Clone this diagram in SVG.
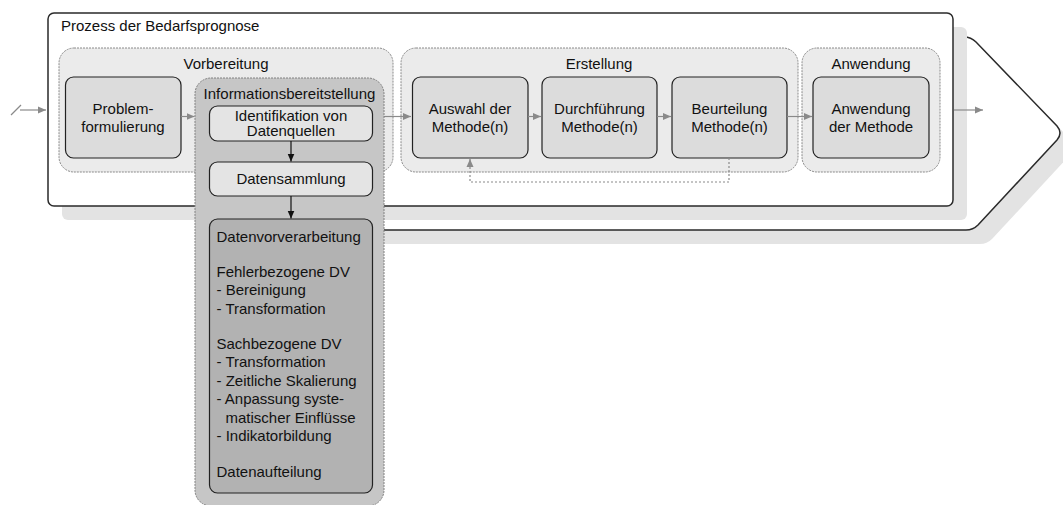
<svg xmlns="http://www.w3.org/2000/svg" width="1063" height="505" viewBox="0 0 1063 505">
  <defs>
    <style>
      text { font-family: "Liberation Sans", Arial, sans-serif; font-size: 15px; fill: #111; }
      .mid { text-anchor: middle; }
      .shadow { fill: #e3e3e3; stroke: none; }
      .frame { fill: #fff; stroke: #2a2a2a; stroke-width: 1.5; }
      .phase { fill: #ebebeb; stroke: #8a8a8a; stroke-width: 1; stroke-dasharray: 2 1; }
      .step { fill: #dcdcdc; stroke: #222; stroke-width: 1.2; }
      .info { fill: #c6c6c6; stroke: #808080; stroke-width: 1; stroke-dasharray: 2 1; }
      .sub { fill: #e4e4e4; stroke: #222; stroke-width: 1.2; }
      .prep { fill: #b2b2b2; stroke: #222; stroke-width: 1.2; }
      .flow { fill: none; stroke: #8a8a8a; stroke-width: 1.2; }
      .loop { fill: none; stroke: #8a8a8a; stroke-width: 1.2; stroke-dasharray: 2 2; }
      .dark { fill: none; stroke: #111; stroke-width: 1.2; }
    </style>
    <marker id="arrowGray" markerUnits="userSpaceOnUse" markerWidth="9" markerHeight="8" refX="8" refY="4" orient="auto">
      <path d="M0,0.5 L8,4 L0,7.5 Z" fill="#8a8a8a"/>
    </marker>
    <marker id="arrowBlack" markerUnits="userSpaceOnUse" markerWidth="9" markerHeight="8" refX="8" refY="4" orient="auto">
      <path d="M0,0.5 L8,4 L0,7.5 Z" fill="#111"/>
    </marker>
  </defs>

  <!-- chevron behind the process frame -->
  <g id="chevron">
    <path class="shadow" d="M314,51 H978 Q985,51 990,56 L1071,140 Q1077,147 1071,154 L992,239 Q987,244 980,244 H314 Z"/>
    <path class="frame" d="M300,37 H964 Q971,37 976,42 L1057,126 Q1063,133 1057,140 L978,225 Q973,230 966,230 H300 Z"/>
  </g>

  <!-- process frame -->
  <g id="process">
    <rect class="shadow" x="62" y="27" width="905" height="193" rx="6"/>
    <rect class="frame" x="48" y="13" width="905" height="193" rx="6"/>
    <text x="61" y="30.5">Prozess der Bedarfsprognose</text>
  </g>

  <!-- phase: Vorbereitung -->
  <g id="vorbereitung">
    <rect class="phase" x="59" y="48" width="334" height="124" rx="15"/>
    <text class="mid" x="226" y="68.5">Vorbereitung</text>
  </g>
  <g id="problemformulierung">
    <rect class="step" x="65.5" y="77" width="115.5" height="81" rx="8"/>
    <text class="mid" x="123" y="113.5">Problem-</text>
    <text class="mid" x="123" y="131.5">formulierung</text>
  </g>

  <!-- phase: Erstellung -->
  <g id="erstellung">
    <rect class="phase" x="401" y="48" width="397" height="124" rx="15"/>
    <text class="mid" x="599" y="68.5">Erstellung</text>
  </g>
  <g id="auswahl">
    <rect class="step" x="412.5" y="77" width="115.5" height="81" rx="8"/>
    <text class="mid" x="470" y="113.5">Auswahl der</text>
    <text class="mid" x="470" y="131.5">Methode(n)</text>
  </g>
  <g id="durchfuehrung">
    <rect class="step" x="542" y="77" width="115" height="81" rx="8"/>
    <text class="mid" x="599.5" y="113.5">Durchführung</text>
    <text class="mid" x="599.5" y="131.5">Methode(n)</text>
  </g>
  <g id="beurteilung">
    <rect class="step" x="672" y="77" width="115" height="81" rx="8"/>
    <text class="mid" x="729.5" y="113.5">Beurteilung</text>
    <text class="mid" x="729.5" y="131.5">Methode(n)</text>
  </g>

  <!-- phase: Anwendung -->
  <g id="anwendung">
    <rect class="phase" x="802" y="48" width="138" height="124" rx="15"/>
    <text class="mid" x="871" y="68.5">Anwendung</text>
  </g>
  <g id="anwendung-methode">
    <rect class="step" x="813" y="77" width="116" height="81" rx="8"/>
    <text class="mid" x="871" y="113.5">Anwendung</text>
    <text class="mid" x="871" y="131.5">der Methode</text>
  </g>

  <!-- connectors -->
  <g id="connectors">
    <line class="flow" x1="11" y1="115" x2="21" y2="105"/>
    <line class="flow" x1="20" y1="110" x2="46" y2="110" marker-end="url(#arrowGray)"/>
    <line class="flow" x1="181" y1="116.5" x2="194.5" y2="116.5" marker-end="url(#arrowGray)"/>
    <line class="flow" x1="384" y1="116.5" x2="411" y2="116.5" marker-end="url(#arrowGray)"/>
    <line class="flow" x1="528" y1="116.5" x2="541" y2="116.5" marker-end="url(#arrowGray)"/>
    <line class="flow" x1="657" y1="116.5" x2="671" y2="116.5" marker-end="url(#arrowGray)"/>
    <line class="flow" x1="787" y1="116.5" x2="812" y2="116.5" marker-end="url(#arrowGray)"/>
    <line class="flow" x1="954" y1="110" x2="983" y2="110" marker-end="url(#arrowGray)"/>
    <path class="loop" d="M729,158 V182 H470 V159" marker-end="url(#arrowGray)"/>
  </g>

  <!-- information provisioning block, drawn on top of the frame -->
  <g id="informationsbereitstellung">
    <rect class="info" x="195" y="78" width="189" height="428" rx="16"/>
    <text class="mid" x="289.5" y="99">Informationsbereitstellung</text>
  </g>
  <g id="identifikation">
    <rect class="sub" x="209.5" y="106" width="163" height="35" rx="8"/>
    <text class="mid" x="291" y="120.5">Identifikation von</text>
    <text class="mid" x="291" y="136">Datenquellen</text>
  </g>
  <g id="datensammlung">
    <rect class="sub" x="209.5" y="162" width="163" height="34" rx="8"/>
    <text class="mid" x="291" y="183.5">Datensammlung</text>
  </g>
  <g id="datenvorverarbeitung">
    <rect class="prep" x="209.5" y="219" width="163" height="274" rx="8"/>
    <text x="216.5" y="241.5">Datenvorverarbeitung</text>
    <text x="216.5" y="276.5">Fehlerbezogene DV</text>
    <text x="216.5" y="295">- Bereinigung</text>
    <text x="216.5" y="313.5">- Transformation</text>
    <text x="216.5" y="348.5">Sachbezogene DV</text>
    <text x="216.5" y="367">- Transformation</text>
    <text x="216.5" y="385.5">- Zeitliche Skalierung</text>
    <text x="216.5" y="404">- Anpassung syste-</text>
    <text x="225.5" y="422.5">matischer Einflüsse</text>
    <text x="216.5" y="441">- Indikatorbildung</text>
    <text x="216.5" y="477">Datenaufteilung</text>
  </g>
  <g id="connectors-info">
    <line class="dark" x1="291" y1="141" x2="291" y2="161.5" marker-end="url(#arrowBlack)"/>
    <line class="dark" x1="291" y1="196" x2="291" y2="218.5" marker-end="url(#arrowBlack)"/>
  </g>
</svg>
